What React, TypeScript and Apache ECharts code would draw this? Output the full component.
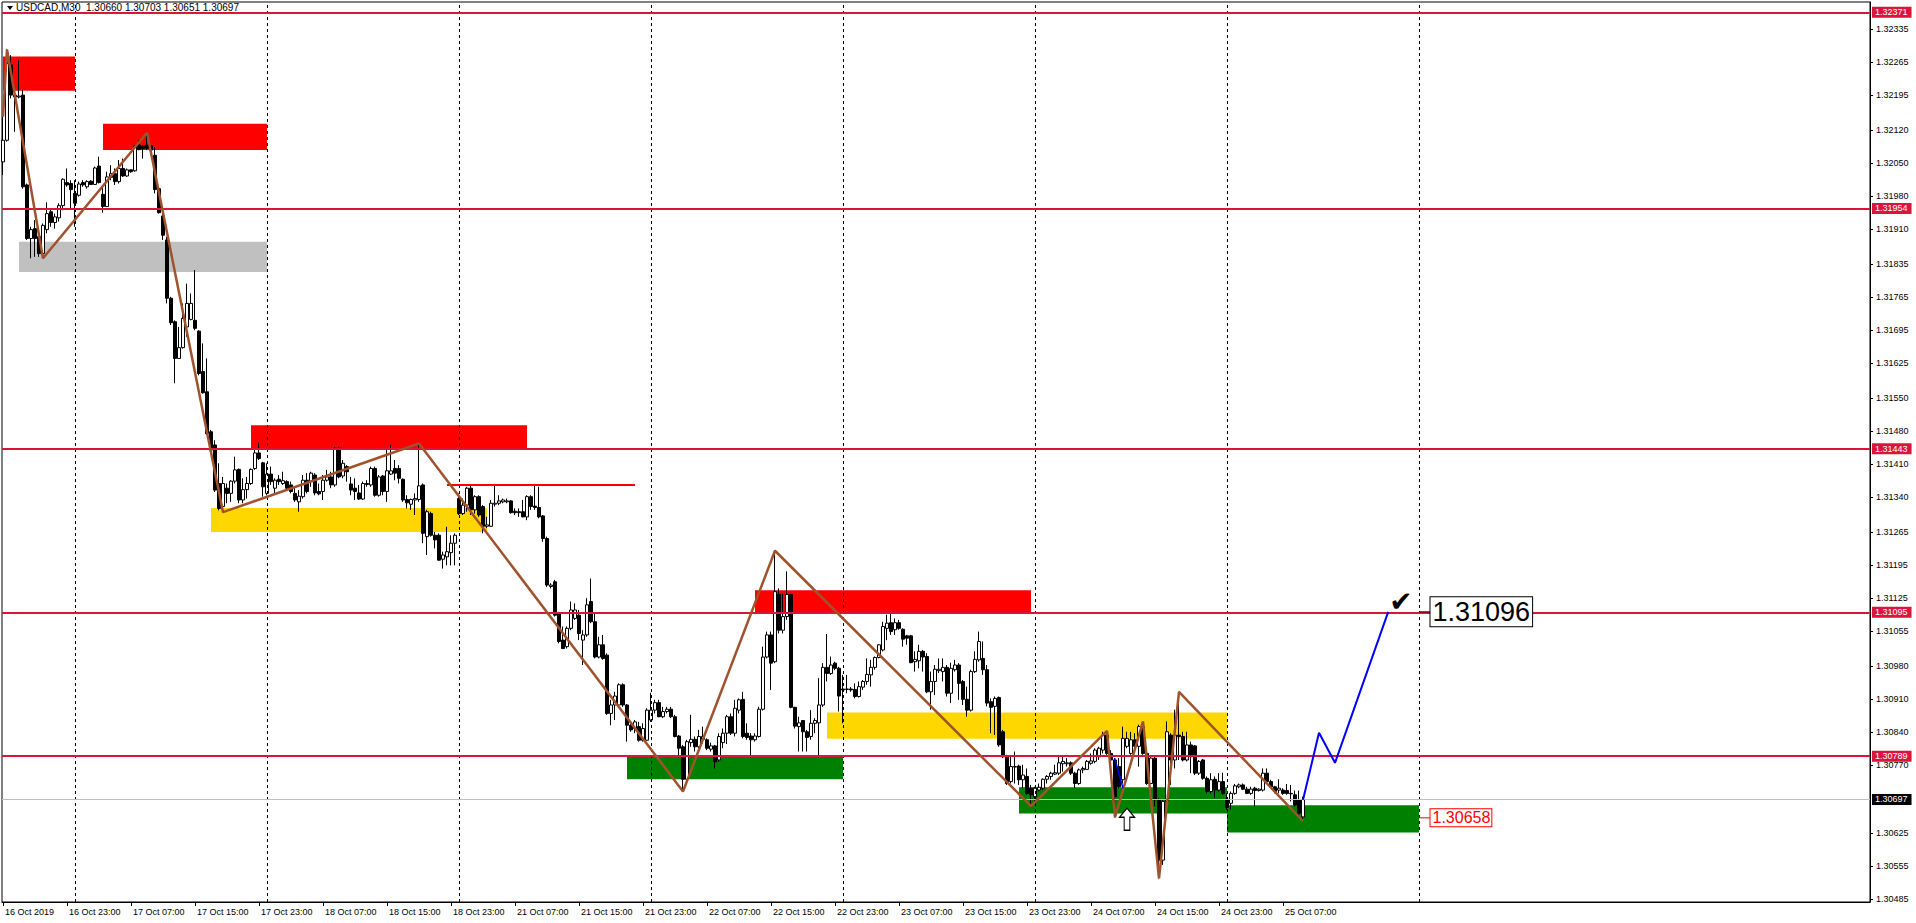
import React, { useEffect, useRef } from "react";
import * as echarts from "echarts";

// candle = [open, close, low, high]
type C = [number, number, number, number];

const oct16: C[] = [
  [1.32053, 1.32099, 1.32025, 1.32149], [1.32099, 1.32262, 1.32096, 1.32292], [1.32259, 1.32195, 1.32188, 1.3228],
  [1.32195, 1.32191, 1.32117, 1.32206], [1.32191, 1.32193, 1.32188, 1.32269], [1.32195, 1.32, 1.31996, 1.32206],
  [1.32004, 1.3189, 1.31887, 1.32007], [1.3189, 1.31909, 1.31848, 1.31915], [1.31911, 1.3189, 1.31851, 1.31929],
  [1.31894, 1.31858, 1.31851, 1.31897], [1.31858, 1.31918, 1.31848, 1.31922], [1.31909, 1.31943, 1.31901, 1.31967],
  [1.31947, 1.31924, 1.31915, 1.31954], [1.31924, 1.31936, 1.31911, 1.31943], [1.31934, 1.3196, 1.31926, 1.31965],
  [1.3196, 1.32016, 1.3195, 1.32018], [1.32009, 1.32004, 1.32, 1.32039], [1.32007, 1.31994, 1.31954, 1.32014],
];
const oct17: C[] = [
  [1.31986, 1.31965, 1.31915, 1.32014], [1.31982, 1.32006, 1.31979, 1.32011], [1.32009, 1.32004, 1.32, 1.32014],
  [1.32, 1.32011, 1.31996, 1.32014], [1.32012, 1.32005, 1.32004, 1.32014], [1.32005, 1.3204, 1.32004, 1.32043],
  [1.32044, 1.32009, 1.32007, 1.32064], [1.31984, 1.31958, 1.31945, 1.32], [1.31958, 1.32021, 1.31958, 1.32032],
  [1.3202, 1.32028, 1.32014, 1.32046], [1.32028, 1.32011, 1.32004, 1.32039], [1.32011, 1.32039, 1.32007, 1.32057],
  [1.32039, 1.32023, 1.32021, 1.3206], [1.32023, 1.32036, 1.32021, 1.32039], [1.32036, 1.32032, 1.3203, 1.32037],
  [1.32034, 1.32087, 1.32032, 1.32089], [1.32089, 1.32079, 1.32078, 1.32099], [1.32087, 1.32081, 1.3206, 1.32089],
  [1.32089, 1.32082, 1.32078, 1.32115], [1.32087, 1.32078, 1.32067, 1.32089], [1.32067, 1.31994, 1.31986, 1.32085],
  [1.31996, 1.31945, 1.31943, 1.32], [1.31938, 1.31897, 1.31887, 1.3195], [1.31887, 1.31763, 1.31752, 1.31894],
  [1.31763, 1.31711, 1.31706, 1.31766], [1.31713, 1.31635, 1.31582, 1.31716], [1.31635, 1.31658, 1.31635, 1.31702],
  [1.31658, 1.3172, 1.31656, 1.31752], [1.31702, 1.31752, 1.31681, 1.31794], [1.31718, 1.31752, 1.31716, 1.31773],
  [1.31716, 1.31699, 1.31695, 1.31823], [1.31693, 1.31603, 1.31599, 1.31695], [1.31607, 1.31562, 1.3156, 1.31667],
  [1.31564, 1.31475, 1.31472, 1.31635], [1.31479, 1.3144, 1.31436, 1.31483], [1.31451, 1.31355, 1.31351, 1.31461],
  [1.31369, 1.31316, 1.31312, 1.31412], [1.3132, 1.31369, 1.31308, 1.31383], [1.31359, 1.31348, 1.31327, 1.31369],
  [1.31348, 1.31374, 1.3133, 1.31376], [1.31374, 1.31398, 1.31369, 1.31426], [1.31399, 1.31334, 1.31327, 1.31401],
  [1.31334, 1.31356, 1.31327, 1.3138], [1.31356, 1.31369, 1.31337, 1.31383], [1.31369, 1.31399, 1.31366, 1.31401],
  [1.31401, 1.31434, 1.31398, 1.31444], [1.31434, 1.31422, 1.31419, 1.31456], [1.31413, 1.31362, 1.31341, 1.31415],
];
const oct18: C[] = [
  [1.31348, 1.31389, 1.31344, 1.31412], [1.31389, 1.31373, 1.31366, 1.31405], [1.31359, 1.31376, 1.31348, 1.3138],
  [1.31378, 1.31373, 1.31366, 1.31387], [1.31369, 1.31375, 1.31366, 1.31394], [1.31373, 1.31359, 1.31355, 1.31376],
  [1.31366, 1.31352, 1.31348, 1.31373], [1.31348, 1.31334, 1.3133, 1.31362], [1.3133, 1.31342, 1.31309, 1.31355],
  [1.31341, 1.31376, 1.31337, 1.31387], [1.31376, 1.31352, 1.31348, 1.31391], [1.31373, 1.31391, 1.31362, 1.31394],
  [1.31387, 1.31349, 1.31344, 1.31391], [1.31352, 1.31347, 1.31344, 1.31369], [1.31352, 1.31376, 1.31334, 1.31387],
  [1.31376, 1.31383, 1.31373, 1.31398], [1.31383, 1.31366, 1.31359, 1.31394], [1.31366, 1.31444, 1.31362, 1.31447],
  [1.31444, 1.31383, 1.3138, 1.31447], [1.31385, 1.31412, 1.3138, 1.31419], [1.31405, 1.31394, 1.31373, 1.31408],
  [1.31368, 1.31355, 1.31344, 1.31383], [1.31359, 1.31352, 1.31334, 1.3138], [1.31349, 1.31336, 1.31334, 1.31366],
  [1.31336, 1.31369, 1.31334, 1.31373], [1.31369, 1.31367, 1.31362, 1.31376], [1.31366, 1.31401, 1.31362, 1.31405],
  [1.31401, 1.31344, 1.31341, 1.31405], [1.31344, 1.31383, 1.31341, 1.31387], [1.31385, 1.31352, 1.31344, 1.31387],
  [1.31352, 1.31396, 1.3133, 1.3144], [1.31389, 1.31396, 1.31387, 1.31451], [1.31401, 1.31391, 1.31376, 1.31419],
  [1.31401, 1.3138, 1.31369, 1.31408], [1.31378, 1.31334, 1.3133, 1.3138], [1.31335, 1.31328, 1.31316, 1.31344],
  [1.31325, 1.31335, 1.31313, 1.31337], [1.31334, 1.31337, 1.31302, 1.31348], [1.31335, 1.31364, 1.3133, 1.31454],
  [1.31366, 1.31263, 1.31242, 1.31369], [1.31256, 1.31309, 1.31217, 1.31313], [1.31305, 1.31259, 1.31256, 1.31309],
  [1.31259, 1.31249, 1.31231, 1.31266], [1.31259, 1.31206, 1.31205, 1.31263], [1.31208, 1.31217, 1.31188, 1.31224],
  [1.31213, 1.31224, 1.31195, 1.31277], [1.31222, 1.31242, 1.31195, 1.31259], [1.31242, 1.31259, 1.31195, 1.31263],
];
const oct21: C[] = [
  [1.31337, 1.31305, 1.31302, 1.31348], [1.31305, 1.31323, 1.31302, 1.31337], [1.31323, 1.31359, 1.31309, 1.31362],
  [1.31359, 1.31313, 1.31302, 1.31366], [1.31313, 1.31341, 1.31305, 1.31344], [1.31341, 1.31302, 1.31298, 1.31344],
  [1.3132, 1.31278, 1.31263, 1.31323], [1.31278, 1.31281, 1.31274, 1.31298], [1.31278, 1.31327, 1.31277, 1.31334],
  [1.31325, 1.31327, 1.3132, 1.31366], [1.31327, 1.31332, 1.31323, 1.31344], [1.3133, 1.31334, 1.31327, 1.31337],
  [1.3133, 1.31332, 1.31327, 1.31337], [1.31332, 1.31307, 1.31305, 1.31334], [1.3131, 1.31307, 1.31302, 1.31316],
  [1.31309, 1.31307, 1.31298, 1.31316], [1.31309, 1.31298, 1.31297, 1.31334], [1.31298, 1.31341, 1.31291, 1.31344],
  [1.31341, 1.3132, 1.31313, 1.31344], [1.31321, 1.31318, 1.31313, 1.31366], [1.31318, 1.31298, 1.31295, 1.31362],
  [1.313, 1.31252, 1.31245, 1.31302], [1.31252, 1.31153, 1.31149, 1.31256], [1.3115, 1.31153, 1.31146, 1.31157],
  [1.3116, 1.31089, 1.31086, 1.31164], [1.31093, 1.31033, 1.31029, 1.31096], [1.31036, 1.31018, 1.31017, 1.31065],
  [1.31022, 1.31061, 1.31018, 1.31065], [1.31061, 1.311, 1.31057, 1.31118], [1.31082, 1.311, 1.31079, 1.31114],
  [1.31089, 1.3105, 1.31036, 1.311], [1.31036, 1.31047, 1.30983, 1.31057], [1.31047, 1.31111, 1.31043, 1.31125],
  [1.31118, 1.31075, 1.31072, 1.31167], [1.31075, 1.31, 1.30997, 1.31093], [1.31, 1.31026, 1.30997, 1.31043],
  [1.31026, 1.30997, 1.30994, 1.31047], [1.31004, 1.3088, 1.30877, 1.31008], [1.3088, 1.30898, 1.30855, 1.30909],
  [1.30898, 1.30917, 1.30866, 1.30926], [1.30898, 1.30941, 1.30894, 1.30944], [1.30941, 1.30898, 1.30894, 1.30944],
  [1.30898, 1.30855, 1.3082, 1.309], [1.30855, 1.30845, 1.30841, 1.30862], [1.30848, 1.30862, 1.30838, 1.30866],
  [1.30852, 1.30823, 1.3082, 1.30862], [1.30823, 1.30848, 1.3082, 1.30859], [1.30823, 1.30887, 1.30822, 1.30891],
];
const oct22: C[] = [
  [1.30866, 1.30887, 1.30862, 1.30924], [1.30887, 1.30903, 1.3088, 1.30909], [1.30903, 1.30873, 1.30872, 1.30909],
  [1.30873, 1.30884, 1.3087, 1.30894], [1.30884, 1.30889, 1.3088, 1.30894], [1.30889, 1.30873, 1.3087, 1.30894],
  [1.30873, 1.30831, 1.30829, 1.30877], [1.30832, 1.30806, 1.30785, 1.30834], [1.30809, 1.3074, 1.30714, 1.30813],
  [1.3074, 1.3082, 1.30738, 1.30824], [1.30818, 1.30825, 1.30809, 1.30877], [1.30825, 1.30809, 1.30799, 1.30831],
  [1.30809, 1.30831, 1.30806, 1.30845], [1.30825, 1.30831, 1.30816, 1.30852], [1.30824, 1.30806, 1.30802, 1.30827],
  [1.30804, 1.30811, 1.30799, 1.30818], [1.30811, 1.30777, 1.30763, 1.30813], [1.30781, 1.30831, 1.30777, 1.30838],
  [1.30818, 1.30838, 1.30806, 1.30848], [1.30838, 1.30873, 1.30815, 1.30877], [1.30873, 1.30838, 1.30834, 1.3088],
  [1.30838, 1.30891, 1.30831, 1.30909], [1.30887, 1.30909, 1.3088, 1.30912], [1.3091, 1.30831, 1.30827, 1.30926],
  [1.30838, 1.30829, 1.30824, 1.30859], [1.30832, 1.30824, 1.30785, 1.30838], [1.30824, 1.30832, 1.3082, 1.30838],
  [1.30831, 1.30889, 1.30829, 1.30894], [1.30889, 1.31, 1.30886, 1.31022], [1.31, 1.31047, 1.30997, 1.31054],
  [1.31047, 1.30987, 1.3093, 1.31054], [1.3099, 1.31139, 1.30987, 1.31226], [1.31133, 1.31057, 1.3105, 1.31146],
  [1.31057, 1.31086, 1.3105, 1.31135], [1.31086, 1.31133, 1.31079, 1.31182], [1.31133, 1.30893, 1.30891, 1.31135],
  [1.30893, 1.30853, 1.30848, 1.30894], [1.30852, 1.3086, 1.30799, 1.30873], [1.30865, 1.30841, 1.30799, 1.30866],
  [1.30841, 1.30829, 1.30799, 1.30845], [1.30831, 1.30859, 1.30824, 1.30887], [1.30859, 1.30865, 1.30838, 1.3087],
  [1.3086, 1.30898, 1.30785, 1.30955], [1.30898, 1.30978, 1.30894, 1.30987], [1.30978, 1.30965, 1.30948, 1.31049],
  [1.30965, 1.30983, 1.30962, 1.31001], [1.30987, 1.30976, 1.30972, 1.3099], [1.30976, 1.30917, 1.30884, 1.30979],
];
const oct23: C[] = [
  [1.30932, 1.3093, 1.30859, 1.30962], [1.30931, 1.30932, 1.30923, 1.30962], [1.30932, 1.3093, 1.30926, 1.30936],
  [1.30931, 1.30916, 1.30912, 1.30944], [1.30916, 1.30937, 1.30914, 1.30948], [1.30936, 1.30948, 1.3093, 1.30951],
  [1.30948, 1.30963, 1.30941, 1.30997], [1.30962, 1.30978, 1.30937, 1.30994], [1.30978, 1.30999, 1.30973, 1.31001],
  [1.30999, 1.31026, 1.30997, 1.31027], [1.31015, 1.31065, 1.31012, 1.31075], [1.31061, 1.31072, 1.31036, 1.3109],
  [1.31073, 1.31054, 1.31047, 1.31093], [1.31058, 1.31073, 1.31047, 1.31082], [1.31073, 1.31061, 1.31058, 1.31079],
  [1.31059, 1.31038, 1.31022, 1.31061], [1.31045, 1.3104, 1.31026, 1.31047], [1.31045, 1.30988, 1.30987, 1.31047],
  [1.3099, 1.30995, 1.30969, 1.31012], [1.30992, 1.31012, 1.30976, 1.31026], [1.31012, 1.31, 1.30969, 1.31015],
  [1.31001, 1.30926, 1.30923, 1.31008], [1.30926, 1.30948, 1.30888, 1.30969], [1.30948, 1.30974, 1.30919, 1.30983],
  [1.30971, 1.30974, 1.30966, 1.30997], [1.30969, 1.30978, 1.30948, 1.30997], [1.30978, 1.30923, 1.30916, 1.30983],
  [1.30923, 1.30976, 1.30902, 1.30988], [1.30973, 1.30983, 1.30969, 1.30994], [1.30983, 1.30944, 1.30909, 1.30987],
  [1.30948, 1.3091, 1.30898, 1.30951], [1.3091, 1.30887, 1.30873, 1.30937], [1.30887, 1.30969, 1.30884, 1.30973],
  [1.30969, 1.30995, 1.30966, 1.31012], [1.30994, 1.31033, 1.3099, 1.31054], [1.30997, 1.30973, 1.30962, 1.31033],
  [1.30973, 1.30902, 1.30895, 1.30983], [1.30905, 1.30893, 1.30838, 1.30912], [1.30895, 1.30912, 1.30834, 1.30916],
  [1.30914, 1.30813, 1.30809, 1.30916], [1.30841, 1.30788, 1.30785, 1.30845], [1.3079, 1.30731, 1.30728, 1.30792],
  [1.30735, 1.30767, 1.30731, 1.30788], [1.30766, 1.30767, 1.30731, 1.30799], [1.30768, 1.30739, 1.30728, 1.30771],
  [1.30739, 1.30749, 1.30721, 1.30771], [1.30746, 1.3071, 1.30707, 1.30763], [1.30721, 1.30707, 1.30683, 1.30728],
];
const oct24: C[] = [
  [1.30703, 1.30721, 1.30693, 1.30724], [1.30717, 1.30723, 1.30714, 1.30731], [1.30721, 1.3074, 1.30717, 1.30742],
  [1.3074, 1.30746, 1.30731, 1.30749], [1.30746, 1.30753, 1.30739, 1.30756], [1.30751, 1.30754, 1.30749, 1.30771],
  [1.30753, 1.30775, 1.30749, 1.30788], [1.30773, 1.30778, 1.30756, 1.30788], [1.30773, 1.30775, 1.30767, 1.30785],
  [1.30775, 1.30753, 1.30749, 1.30778], [1.30753, 1.30731, 1.30721, 1.30756], [1.30731, 1.3076, 1.30728, 1.30763],
  [1.3076, 1.30763, 1.30753, 1.30767], [1.30761, 1.30778, 1.3076, 1.30781], [1.30774, 1.30779, 1.30771, 1.30795],
  [1.30778, 1.30802, 1.30774, 1.30806], [1.30788, 1.30806, 1.30781, 1.30809], [1.30802, 1.30834, 1.30795, 1.30841],
  [1.30834, 1.30795, 1.30792, 1.30843], [1.30795, 1.30781, 1.30778, 1.30802], [1.30781, 1.30703, 1.30659, 1.30785],
  [1.30767, 1.30724, 1.30721, 1.30785], [1.30739, 1.30827, 1.30731, 1.30852], [1.3081, 1.30827, 1.30806, 1.30841],
  [1.30795, 1.30824, 1.30792, 1.30841], [1.30824, 1.3081, 1.30802, 1.30838], [1.3081, 1.30852, 1.30767, 1.30856],
  [1.30852, 1.30795, 1.30792, 1.30863], [1.30795, 1.30731, 1.30728, 1.30799], [1.30731, 1.30785, 1.3073, 1.30788],
  [1.30785, 1.30696, 1.30682, 1.30788], [1.30696, 1.30568, 1.30529, 1.307], [1.30568, 1.30693, 1.30558, 1.30696],
  [1.30693, 1.30841, 1.30689, 1.30863], [1.30834, 1.30781, 1.30728, 1.30838], [1.30781, 1.30834, 1.30763, 1.30888],
  [1.30834, 1.30831, 1.30781, 1.30926], [1.30831, 1.30781, 1.30778, 1.30841], [1.30781, 1.30813, 1.30778, 1.30841],
  [1.30813, 1.30788, 1.30753, 1.3082], [1.30811, 1.30753, 1.30749, 1.30813], [1.30753, 1.30778, 1.30749, 1.30781],
  [1.30781, 1.30742, 1.30739, 1.30783], [1.30742, 1.30714, 1.3071, 1.30746], [1.30714, 1.30739, 1.3071, 1.30753],
  [1.3074, 1.30717, 1.307, 1.30746], [1.30717, 1.30735, 1.30714, 1.30753], [1.30735, 1.3071, 1.30707, 1.30754],
];
const oct25: C[] = [
  [1.30696, 1.3068, 1.30675, 1.3071], [1.30689, 1.3071, 1.30676, 1.30714], [1.3071, 1.30726, 1.30707, 1.3073],
  [1.30724, 1.30728, 1.30721, 1.30731], [1.30728, 1.30719, 1.30717, 1.30731], [1.30719, 1.3071, 1.30709, 1.30724],
  [1.3071, 1.30719, 1.30707, 1.30724], [1.30721, 1.30716, 1.30682, 1.30724], [1.30716, 1.30719, 1.30714, 1.30721],
  [1.30717, 1.30753, 1.30714, 1.30763], [1.30753, 1.30735, 1.30731, 1.30763], [1.30735, 1.30724, 1.30721, 1.30739],
  [1.30724, 1.30714, 1.3071, 1.30726], [1.30717, 1.30721, 1.3071, 1.3074], [1.30717, 1.3071, 1.30707, 1.30721],
  [1.30716, 1.3071, 1.30707, 1.3073], [1.3071, 1.30709, 1.30693, 1.30728], [1.30707, 1.30685, 1.30682, 1.30716],
  [1.30696, 1.30668, 1.30664, 1.30716], [1.3066, 1.30697, 1.30651, 1.30703],
];

const days: C[][] = [oct16, oct17, oct18, oct21, oct22, oct23, oct24, oct25];

// time axis labels every 16 bars
const timeLabels = [
  "16 Oct 2019", "16 Oct 23:00", "17 Oct 07:00", "17 Oct 15:00", "17 Oct 23:00", "18 Oct 07:00", "18 Oct 15:00",
  "18 Oct 23:00", "21 Oct 07:00", "21 Oct 15:00", "21 Oct 23:00", "22 Oct 07:00", "22 Oct 15:00", "22 Oct 23:00",
  "23 Oct 07:00", "23 Oct 15:00", "23 Oct 23:00", "24 Oct 07:00", "24 Oct 15:00", "24 Oct 23:00", "25 Oct 07:00",
];
const labelBars = [0, 16, 32, 48, 64, 80, 96, 112, 128, 144, 160, 176, 192, 208, 224, 240, 256, 272, 288, 304, 320];
const priceTicks = [
  1.32335, 1.32265, 1.32195, 1.3212, 1.3205, 1.3198, 1.3191, 1.31835, 1.31765, 1.31695, 1.31625, 1.3155, 1.3148,
  1.3141, 1.3134, 1.31265, 1.31195, 1.31125, 1.31055, 1.3098, 1.3091, 1.3084, 1.3077, 1.30625, 1.30555, 1.30485,
];
const daySeparators = [18, 66, 114, 162, 210, 258, 306, 354];
const levelLines = [1.32371, 1.31954, 1.31443, 1.31095, 1.30789];
const currentPrice = 1.30697;

// zones: [startBar, endBar, topPrice, bottomPrice, color]
const zones: [number, number, number, number, string][] = [
  [0, 18, 1.32277, 1.32204, "#FF0000"],
  [25, 66, 1.32134, 1.32078, "#FF0000"],
  [4, 66, 1.31883, 1.31819, "#C0C0C0"],
  [62, 131, 1.31493, 1.31444, "#FF0000"],
  [52, 121, 1.31317, 1.31266, "#FFD700"],
  [188, 257, 1.31142, 1.31093, "#FF0000"],
  [156, 210, 1.30788, 1.3074, "#008000"],
  [206, 306, 1.30882, 1.30826, "#FFD700"],
  [254, 306, 1.30723, 1.30667, "#008000"],
  [306, 354, 1.30685, 1.30627, "#008000"],
];

const zigzag: [number, number][] = [
  [0, 1.32149], [1, 1.32292], [10, 1.31848], [36, 1.32115], [55, 1.31308], [104, 1.31454], [170, 1.30714],
  [193, 1.31226], [257, 1.30683], [276, 1.30843], [278, 1.30659], [285, 1.30863], [289, 1.30529], [294, 1.30926],
  [325, 1.30651],
];
const projection: [number, number][] = [[325, 1.30696], [329, 1.30839], [333, 1.30775], [346.3, 1.31096]];
const smallBlue: [number, number][] = [[277.9, 1.30785], [280, 1.30721]];
const redSegment: [number, number][] = [[111, 1.31366], [158, 1.31366]];
const targetPrice = 1.31096;
const stopPrice = 1.30658;
const arrowPoint: [number, number] = [281, 1.30655];
const checkPoint: [number, number] = [349.5, 1.31118];

const FONT = "Liberation Sans";

export default function App() {
  const ref = useRef<HTMLDivElement>(null);
  useEffect(() => {
    document.body.style.margin = "0";
    const chart = echarts.init(ref.current!, undefined, { renderer: "svg" });
    const candles = days.flat().map((c, i) => [i, c[0], c[1], c[2], c[3]]);

    const axisPriceLabel = (p: number, bg: string) => ({
      show: true, position: "end", distance: 2, formatter: () => p.toFixed(5),
      backgroundColor: bg, color: "#FFFFFF", fontSize: 9, fontFamily: FONT,
      padding: [1, 4, 0, 3], lineHeight: 10,
    });

    const option: any = {
      animation: false,
      backgroundColor: "#FFFFFF",
      textStyle: { fontFamily: FONT },
      graphic: [
        { type: "polygon", shape: { points: [[7, 6], [13, 6], [10, 10]] }, style: { fill: "#000" }, z: 100 },
        {
          type: "text", left: 16, top: 2, z: 100,
          style: { text: "USDCAD,M30  1.30660 1.30703 1.30651 1.30697", fontSize: 10, fontFamily: FONT, fill: "#000" },
        },
      ],
      grid: { left: 2, right: 46, top: 2, bottom: 21, show: true, borderColor: "#000", borderWidth: 1 },
      xAxis: {
        type: "value", min: -0.25, max: 466.75,
        axisLine: { show: true, onZero: false, lineStyle: { color: "#000", width: 1 } },
        axisTick: { show: true, customValues: labelBars, length: 4, lineStyle: { color: "#000" } },
        axisLabel: {
          show: true, customValues: labelBars, align: "left", margin: 5, fontSize: 9, color: "#000", fontFamily: FONT,
          padding: [0, 0, 0, 2],
          formatter: (v: number) => timeLabels[labelBars.indexOf(Math.round(v))] ?? "",
        },
        splitLine: { show: false },
      },
      yAxis: {
        type: "value", position: "right", min: 1.30479, max: 1.32393,
        axisLine: { show: true, onZero: false, lineStyle: { color: "#000", width: 1 } },
        axisTick: { show: true, customValues: priceTicks, length: 3, lineStyle: { color: "#000" } },
        axisLabel: {
          show: true, customValues: priceTicks, margin: 6, fontSize: 9, color: "#000", fontFamily: FONT,
          formatter: (v: number) => v.toFixed(5),
        },
        splitLine: { show: false },
      },
      series: [
        {
          type: "candlestick",
          data: candles,
          encode: { x: 0, y: [1, 2, 3, 4] },
          barWidth: 3,
          z: 3,
          itemStyle: { color: "#FFFFFF", color0: "#000000", borderColor: "#000000", borderColor0: "#000000", borderWidth: 1 },
          markArea: {
            silent: true,
            z: 1,
            data: zones.map(([s, e, t, b, col]) => [
              { xAxis: s, yAxis: t, itemStyle: { color: col, opacity: 1 } },
              { xAxis: e, yAxis: b },
            ]),
          },
          markLine: {
            silent: true,
            symbol: ["none", "none"],
            z: 5,
            data: daySeparators.map((b) => ({
              xAxis: b, lineStyle: { color: "#000", width: 1, type: [3, 3] }, label: { show: false },
            })),
          },
        },
        {
          type: "line", data: redSegment, symbol: "none", z: 6, silent: true,
          lineStyle: { color: "#FF0000", width: 2 },
          markLine: {
            silent: true,
            symbol: ["none", "none"],
            z: 6,
            data: [
              ...levelLines.map((p) => [
                { coord: [-0.25, p], lineStyle: { color: "#DC143C", width: 2, type: "solid" }, label: axisPriceLabel(p, "#DC143C") },
                { coord: [466.75, p] },
              ]),
              [
                { coord: [-0.25, currentPrice], lineStyle: { color: "#C0C0C0", width: 1, type: "solid" }, label: axisPriceLabel(currentPrice, "#000000") },
                { coord: [466.75, currentPrice] },
              ],
            ],
          },
        },
        {
          type: "line", data: zigzag, symbol: "none", z: 7, silent: true,
          lineStyle: { color: "#A0522D", width: 2.5 },
        },
        {
          type: "line", data: smallBlue, symbol: "none", z: 7, silent: true,
          lineStyle: { color: "#0000FF", width: 1.5 },
        },
        {
          type: "line", data: projection, symbol: "none", z: 7, silent: true,
          lineStyle: { color: "#0000FF", width: 2 },
        },
        {
          type: "line", data: [[354, targetPrice], [356.75, targetPrice]], symbol: "none", z: 7, silent: true,
          lineStyle: { color: "#000", width: 1 },
        },
        {
          type: "line", data: [[354, stopPrice], [356.75, stopPrice]], symbol: "none", z: 7, silent: true,
          lineStyle: { color: "#FF0000", width: 1 },
        },
        {
          type: "scatter", z: 8, silent: true, symbolSize: 1, itemStyle: { color: "rgba(0,0,0,0)", opacity: 1 },
          data: [[356.75, targetPrice]],
          label: {
            show: true, position: "right", distance: 0, formatter: () => targetPrice.toFixed(5),
            fontSize: 27, fontFamily: FONT, color: "#000", backgroundColor: "#FFFFFF",
            borderColor: "#000", borderWidth: 1, padding: [2, 2, 0, 2],
          },
        },
        {
          type: "scatter", z: 8, silent: true, symbolSize: 1, itemStyle: { color: "rgba(0,0,0,0)", opacity: 1 },
          data: [[356.75, stopPrice]],
          label: {
            show: true, position: "right", distance: 0, formatter: () => stopPrice.toFixed(5),
            fontSize: 16, fontFamily: FONT, color: "#FF0000", backgroundColor: "#FFFFFF",
            borderColor: "#FF0000", borderWidth: 1, padding: [1, 1, 0, 2],
          },
        },
        {
          type: "scatter", z: 8, silent: true, symbolSize: 1, itemStyle: { color: "rgba(0,0,0,0)", opacity: 1 },
          data: [checkPoint],
          label: { show: true, position: "inside", formatter: () => "\u2714", fontSize: 28, color: "#000", fontFamily: "DejaVu Sans" },
        },
        {
          type: "scatter", z: 8, silent: true,
          symbol: "path://M8,0 L16,9 L11,9 L11,22 L5,22 L5,9 L0,9 Z",
          symbolSize: [15, 22],
          itemStyle: { color: "#FFFFFF", borderColor: "#000", borderWidth: 1.2, opacity: 1 },
          data: [arrowPoint],
        },
      ],
    };
    chart.setOption(option);
    return () => chart.dispose();
  }, []);
  return <div ref={ref} style={{ width: 1916, height: 923 }} />;
}
